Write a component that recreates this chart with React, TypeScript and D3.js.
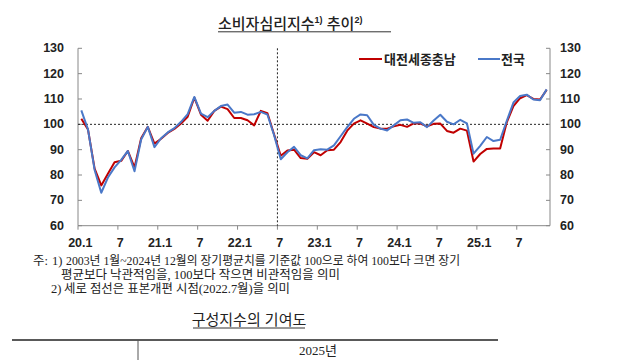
import React from "react";
import * as d3 from "d3";

const months: string[] = Array.from({ length: 71 }, (_, i) => {
  const y = 20 + Math.floor(i / 12);
  const m = (i % 12) + 1;
  return `${y}.${m}`;
});

const tickLabels: string[] = ["20.1", "7", "21.1", "7", "22.1", "7", "23.1", "7", "24.1", "7", "25.1", "7"];
const yTicks: number[] = [60, 70, 80, 90, 100, 110, 120, 130];

const national: number[] = [
  105.5, 98, 82, 73, 79, 83, 86, 89.5, 81.5, 94, 99, 91,
  94.5, 96.8, 98.5, 101, 104, 110.8, 104.2, 102.8, 105.3, 107.2, 107.8, 104.6,
  104.9, 103.8, 104, 104.9, 103.8, 95.7, 86.2, 89, 91.1, 87.8, 86.6, 89.8,
  90.2, 90, 91.7, 95.3, 98.9, 102.2, 103.9, 103.6, 99.8, 98.3, 97.6, 99.6,
  101.6, 101.9, 100.6, 100.8, 98.9, 101.5, 103.8, 101, 100, 101.8, 100.4, 88.4,
  91.5, 95, 93.4, 93.9, 101.4, 108.6, 111.2, 111.7, 109.8, 109.5, 113.8,
];

const regional: number[] = [
  102.2, 98, 82.5, 75.9, 80.5, 85, 85.6, 89.5, 83, 94.5, 99, 92.4,
  94.3, 96.6, 98.2, 100.3, 103, 110.5, 103.8, 101.4, 105.3, 107, 106, 102.5,
  102.5, 101.6, 99.6, 105.3, 104.4, 96, 87.6, 89.7, 90, 86.7, 86.4, 89,
  87.8, 89.8, 90, 93, 97.5, 100.3, 101.6, 100.3, 98.9, 98.3, 98.3, 99.2,
  99.8, 99, 100.4, 100.3, 99.2, 100.2, 100.3, 97.4, 96.7, 98.3, 97.5, 85.3,
  88.3, 90.3, 90.5, 90.5, 100.8, 107.2, 110.3, 111.5, 110, 109.8, 113.6,
];

const seriesNames: string[] = ["대전세종충남", "전국"];
const revisionMonth = "22.7";

const L = 78, R = 550, T = 48.3, B = 225.7;
const RED = "#c00000";
const BLUE = "#4a78c8";
const SANS = "'Liberation Sans', 'Noto Sans CJK KR', sans-serif";
const SERIF = "'Liberation Serif', 'Noto Sans CJK KR', serif";

export default function App() {
  const x = d3.scaleBand<string>().domain(months).range([L, R]).padding(0);
  const bw = x.bandwidth();
  const cx = (m: string) => (x(m) as number) + bw / 2;
  const y = d3.scaleLinear().domain([60, 130]).range([B, T]);

  const line = d3
    .line<number>()
    .x((_, i) => cx(months[i]))
    .y((d) => y(d));

  const tickMonths = months.filter((_, i) => i % 6 === 0);

  return (
    <svg
      width={640}
      height={360}
      style={{ position: "absolute", left: 0, top: 0, background: "#fff" }}
    >
      <rect x={0} y={0} width={640} height={360} fill="#fff" />
      {/* Title */}
      <text x={218} y={29} fontFamily={SANS} fontSize={15} fontWeight={500} fill="#222">
        소비자심리지수
        <tspan fontSize={9} dy={-6} fontWeight={700}>1)</tspan>
        <tspan dy={6}> 추이</tspan>
        <tspan fontSize={9} dy={-6} fontWeight={700}>2)</tspan>
      </text>
      <line x1={218} x2={391} y1={31.8} y2={31.8} stroke="#333" strokeWidth={1} />

      {/* Axes */}
      <line x1={L} x2={L} y1={T} y2={B} stroke="#888" />
      <line x1={R} x2={R} y1={T} y2={B} stroke="#888" />
      <line x1={L} x2={R} y1={B} y2={B} stroke="#888" />
      {yTicks.map((t) => (
        <g key={t}>
          <line x1={L} x2={L + 4} y1={y(t)} y2={y(t)} stroke="#888" />
          <line x1={R - 4} x2={R} y1={y(t)} y2={y(t)} stroke="#888" />
          <text x={64} y={y(t)} textAnchor="end" dominantBaseline="central" fontFamily={SANS} fontSize={12.5} fontWeight={700} fill="#222">
            {t}
          </text>
          <text x={560} y={y(t)} textAnchor="start" dominantBaseline="central" fontFamily={SANS} fontSize={12.5} fontWeight={700} fill="#222">
            {t}
          </text>
        </g>
      ))}
      {tickMonths.map((m, k) => (
        <g key={m}>
          <line x1={x(m) as number} x2={x(m) as number} y1={B} y2={B + 4} stroke="#888" />
          <text x={cx(m) - 1} y={247} textAnchor="middle" fontFamily={SANS} fontSize={12.5} fontWeight={700} fill="#222">
            {tickLabels[k]}
          </text>
        </g>
      ))}

      {/* Reference lines */}
      <line x1={L} x2={R} y1={y(100)} y2={y(100)} stroke="#222" strokeWidth={1} strokeDasharray="2,2" />
      <line
        x1={x(revisionMonth) as number}
        x2={x(revisionMonth) as number}
        y1={T}
        y2={B}
        stroke="#222"
        strokeWidth={1}
        strokeDasharray="2,2"
      />

      {/* Series */}
      <path d={line(regional) || ""} fill="none" stroke={RED} strokeWidth={2} strokeLinejoin="round" />
      <path d={line(national) || ""} fill="none" stroke={BLUE} strokeWidth={2} strokeLinejoin="round" />

      {/* Legend */}
      <line x1={359} x2={382} y1={59} y2={59} stroke={RED} strokeWidth={2} />
      <text x={384} y={59} dominantBaseline="central" fontFamily={SANS} fontSize={13} fontWeight={700} fill="#222">
        {seriesNames[0]}
      </text>
      <line x1={478} x2={500} y1={59} y2={59} stroke={BLUE} strokeWidth={2} />
      <text x={501} y={59} dominantBaseline="central" fontFamily={SANS} fontSize={13} fontWeight={700} fill="#222">
        {seriesNames[1]}
      </text>

      {/* Notes */}
      <g fontFamily={SERIF} fontSize={12.5} fill="#222">
        <text x={33} y={265}>주:</text>
        <text x={52} y={265}>1)</text>
        <text x={66} y={265} textLength={394} lengthAdjust="spacingAndGlyphs">
          2003년 1월~2024년 12월의 장기평균치를 기준값 100으로 하여 100보다 크면 장기
        </text>
        <text x={61} y={279} textLength={279} lengthAdjust="spacingAndGlyphs">
          평균보다 낙관적임을, 100보다 작으면 비관적임을 의미
        </text>
        <text x={51} y={293}>2)</text>
        <text x={64} y={293} textLength={226} lengthAdjust="spacingAndGlyphs">
          세로 점선은 표본개편 시점(2022.7월)을 의미
        </text>
      </g>

      {/* Second section */}
      <text x={249} y={325} textAnchor="middle" fontFamily={SANS} fontSize={15} fill="#222">
        구성지수의 기여도
      </text>
      <line x1={193} x2={305} y1={328} y2={328} stroke="#333" strokeWidth={1} />
      <line x1={12} x2={498} y1={340} y2={340} stroke="#222" strokeWidth={1.5} />
      <line x1={138} x2={138} y1={340} y2={360} stroke="#555" strokeWidth={1} />
      <text x={318} y={355} textAnchor="middle" fontFamily={SERIF} fontSize={13} fill="#222">
        2025년
      </text>
    </svg>
  );
}
